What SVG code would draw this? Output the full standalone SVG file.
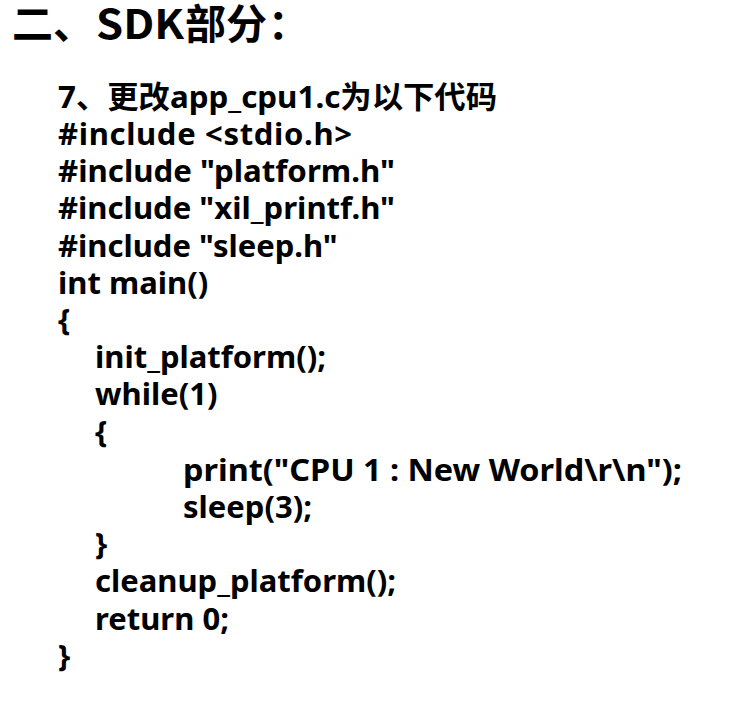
<svg xmlns="http://www.w3.org/2000/svg" width="754" height="723" viewBox="0 0 754 723">
<style>
text{font-family:"Noto Sans","Noto Sans CJK SC",sans-serif;font-weight:bold;fill:#000}
.t{font-family:"Noto Sans CJK SC","Noto Sans",sans-serif;font-size:41px}
.c{font-size:31px}
</style>
<rect width="754" height="723" fill="#fff"/>
<g id="title"><text class="t" y="39"><tspan x="12">二、</tspan><tspan x="96" textLength="88" lengthAdjust="spacingAndGlyphs">SDK</tspan><tspan x="185">部分</tspan><tspan x="268">：</tspan></text></g>
<g id="code">
<text class="c" x="58" y="108" textLength="439" lengthAdjust="spacingAndGlyphs">7、更改app_cpu1.c为以下代码</text>
<text class="c" x="58" y="145" textLength="294" lengthAdjust="spacing">#include &lt;stdio.h&gt;</text>
<text class="c" x="58" y="182.2" textLength="337" lengthAdjust="spacingAndGlyphs">#include "platform.h"</text>
<text class="c" x="58" y="219.4" textLength="337" lengthAdjust="spacingAndGlyphs">#include "xil_printf.h"</text>
<text class="c" x="58" y="256.6">#include "sleep.h"</text>
<text class="c" x="58" y="293.8">int main()</text>
<text class="c" x="58" y="331">{</text>
<text class="c" x="95" y="368.2">init_platform();</text>
<text class="c" x="95" y="405.4">while(1)</text>
<text class="c" x="95" y="442.6">{</text>
<text class="c" x="183" y="481" textLength="499" lengthAdjust="spacingAndGlyphs">print("CPU 1 : New World\r\n");</text>
<text class="c" x="183" y="518">sleep(3);</text>
<text class="c" x="95" y="555.2">}</text>
<text class="c" x="95" y="592.4">cleanup_platform();</text>
<text class="c" x="95" y="629.6">return 0;</text>
<text class="c" x="58" y="667">}</text>
</g>
</svg>
